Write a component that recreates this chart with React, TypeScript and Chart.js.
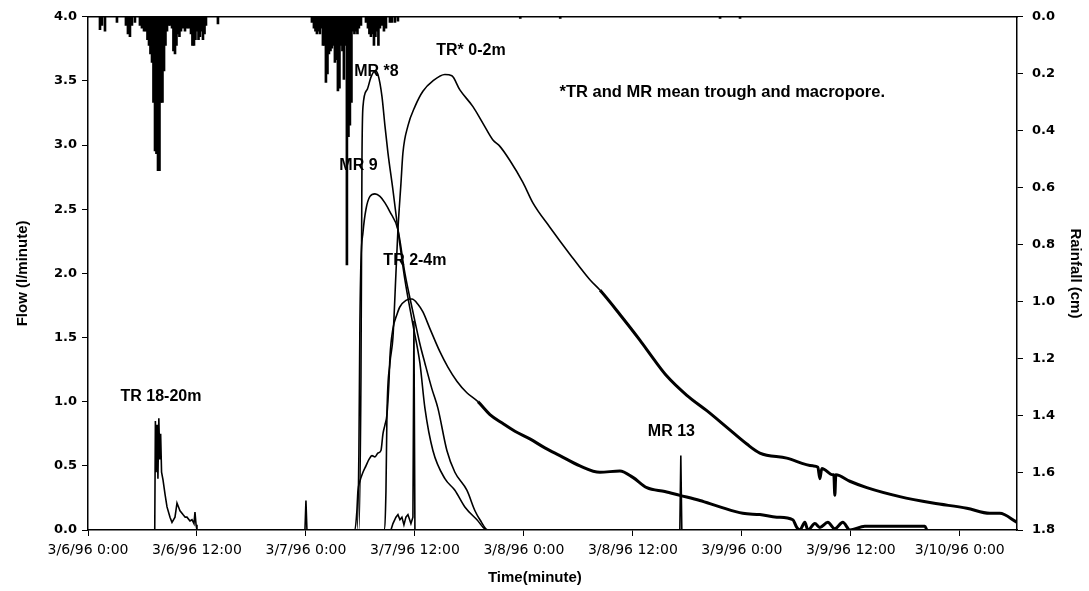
import React, { useEffect, useRef } from "react";
import { Chart, registerables } from "chart.js";

Chart.register(...registerables);

// ---------- axes ----------
const xTickHours = [0, 12, 24, 36, 48, 60, 72, 84, 96];
const xTickLabels = [
  "3/6/96 0:00", "3/6/96 12:00", "3/7/96 0:00", "3/7/96 12:00", "3/8/96 0:00",
  "3/8/96 12:00", "3/9/96 0:00", "3/9/96 12:00", "3/10/96 0:00",
];
const xMaxHours = 102.3;
const flowTicks = [0, 0.5, 1, 1.5, 2, 2.5, 3, 3.5, 4];
const rainTicks = [0, 0.2, 0.4, 0.6, 0.8, 1.0, 1.2, 1.4, 1.6, 1.8];

// ---------- rainfall (hours since 3/6/96 0:00, cm) ----------
const rainHours = [
  1.32, 1.54, 1.87, 3.19, 4.18, 4.40, 4.62, 4.84, 5.17, 5.72, 5.94, 6.17, 6.39, 6.55, 6.72, 6.88, 7.05, 7.21, 7.38, 7.54,
  7.71, 7.87, 8.04, 8.20, 8.37, 8.53, 8.70, 8.86, 9.03, 9.25, 9.41, 9.58, 9.74, 9.91, 10.07, 10.24, 10.46, 10.68, 10.90, 11.12,
  11.34, 11.50, 11.67, 11.83, 12.00, 12.17, 12.33, 12.50, 12.66, 12.83, 12.99, 14.31,
  24.66, 24.88, 25.05, 25.21, 25.38, 25.54, 25.71, 25.87, 26.04, 26.20, 26.37, 26.53, 26.70, 26.86, 27.03, 27.19, 27.36, 27.52,
  27.69, 27.85, 28.02, 28.18, 28.35, 28.51, 28.68, 28.84, 29.01, 29.17, 29.34, 29.50, 29.67, 29.83, 30.06, 30.61, 30.83, 30.99,
  31.16, 31.32, 31.49, 31.65, 31.82, 31.98, 32.15, 32.37, 32.59, 32.81, 33.25, 33.47, 33.80, 34.13,
  47.6, 52.0, 69.6, 71.8,
];
const rainCm = [
  0.045, 0.03, 0.05, 0.02, 0.03, 0.06, 0.07, 0.03, 0.02, 0.03, 0.04, 0.05, 0.05, 0.08, 0.1, 0.13, 0.16, 0.3, 0.47, 0.48,
  0.54, 0.54, 0.3, 0.3, 0.19, 0.1, 0.05, 0.03, 0.03, 0.04, 0.12, 0.13, 0.1, 0.06, 0.07, 0.05, 0.04, 0.05, 0.04, 0.04,
  0.06, 0.1, 0.1, 0.08, 0.05, 0.08, 0.07, 0.05, 0.08, 0.06, 0.03, 0.025,
  0.02, 0.04, 0.05, 0.06, 0.05, 0.06, 0.04, 0.1, 0.1, 0.23, 0.2, 0.13, 0.12, 0.11, 0.1, 0.16, 0.15, 0.26,
  0.25, 0.1, 0.12, 0.22, 0.1, 0.87, 0.42, 0.38, 0.3, 0.05, 0.06, 0.05, 0.06, 0.04, 0.03, 0.02, 0.04, 0.06,
  0.07, 0.06, 0.1, 0.07, 0.05, 0.1, 0.04, 0.03, 0.05, 0.04, 0.02, 0.02, 0.02, 0.015,
  0.006, 0.006, 0.006, 0.006,
];

// ---------- flow series (hours, l/minute) ----------
const tr1820Hours = [0, 7.35, 7.42, 7.5, 7.6, 7.7, 7.8, 7.9, 8.0, 8.1, 8.26, 8.48, 8.7, 9.03, 9.25, 9.58, 9.8, 10.13, 10.46, 10.7, 10.9, 11.23, 11.45, 11.67, 11.78, 11.9, 12.0, 24];
const tr1820Flow = [0, 0, 0.85, 0.45, 0.82, 0.4, 0.87, 0.55, 0.75, 0.45, 0.39, 0.28, 0.18, 0.1, 0.06, 0.1, 0.21, 0.15, 0.12, 0.1, 0.1, 0.07, 0.08, 0.05, 0.14, 0.04, 0, 0];

const mr8Hours = [0, 29.83, 30.06, 30.17, 30.28, 30.72, 31.16, 31.60, 31.93, 32.37, 32.70, 33.03, 33.58, 34.13, 34.90, 35.78, 36.55, 37.10, 37.98, 39.30, 40.40, 41.50, 42.83, 43.93, 50];
const mr8Flow = [0, 0, 1.2, 2.9, 3.3, 3.43, 3.53, 3.58, 3.55, 3.38, 3.15, 2.94, 2.65, 2.34, 1.95, 1.6, 1.3, 0.95, 0.62, 0.4, 0.31, 0.18, 0.08, 0, 0];

const mr9Hours = [0, 29.61, 29.83, 29.94, 30.06, 30.28, 30.61, 31.05, 31.60, 32.15, 32.70, 33.25, 34.13, 34.90, 35.78, 36.55, 37.10, 37.87, 38.53, 39.52, 40.40, 41.72, 42.61, 43.16, 44.04, 50];
const mr9Flow = [0, 0, 0.6, 1.6, 2.1, 2.32, 2.5, 2.6, 2.62, 2.6, 2.55, 2.48, 2.34, 2.0, 1.7, 1.45, 1.3, 1.1, 0.95, 0.62, 0.45, 0.31, 0.15, 0.08, 0, 0];

const tr24Hours = [
  0, 29.39, 29.61, 29.72, 29.94, 30.28, 30.61, 30.94, 31.27, 31.60, 31.93, 32.26, 32.48, 32.70, 32.92, 33.14, 33.25, 33.58, 34.02, 34.35,
  35.01, 35.67, 36.33, 36.88, 37.65, 38.75, 39.63, 40.62, 41.72, 42.94, 44.26, 45.69, 47.01, 48.66, 50.31, 51.96, 54.17, 56.37, 58.57, 60.0,
  61.54, 63.52, 65.17, 67.38, 69.58, 72.11, 73.98, 75.85, 77.61, 78.05, 78.39, 78.94, 79.27, 80.04, 80.59, 81.47, 82.24, 83.12, 83.89, 85.54,
  92.15, 92.37,
];
const tr24Flow = [
  0, 0, 0.15, 0.3, 0.38, 0.45, 0.5, 0.55, 0.58, 0.57, 0.6, 0.62, 0.75, 0.82, 0.9, 1.15, 1.35, 1.57, 1.68, 1.74,
  1.79, 1.8, 1.76, 1.7, 1.57, 1.39, 1.27, 1.16, 1.07, 1.0, 0.9, 0.83, 0.77, 0.71, 0.64, 0.58, 0.5, 0.45, 0.46, 0.41,
  0.33, 0.3, 0.27, 0.23, 0.18, 0.13, 0.12, 0.10, 0.08, 0.02, 0, 0.06, 0, 0.05, 0.02, 0.06, 0.01, 0.06, 0, 0.03,
  0.03, 0,
];

const tr02Hours = [
  0, 32.59, 32.81, 32.92, 33.25, 33.58, 33.91, 34.13, 34.46, 34.68, 35.23, 36.0, 36.88, 37.98, 39.30, 40.07, 40.95, 42.39, 43.49, 44.59,
  45.36, 46.46, 47.89, 48.99, 50.86, 53.06, 55.27, 56.37, 58.57, 60.77, 62.42, 63.74, 65.94, 68.14, 70.35, 72.55, 73.98, 76.95, 79.82, 80.37,
  80.59, 80.81, 82.02, 82.13, 82.24, 82.35, 83.89, 85.76, 89.39, 93.03, 96.77, 99.30, 100.40, 102.3,
];
const tr02Flow = [
  0, 0, 0.3, 0.9, 1.3, 1.5, 2.0, 2.34, 2.7, 2.94, 3.15, 3.3, 3.42, 3.5, 3.55, 3.54, 3.43, 3.3, 3.17, 3.04,
  2.99, 2.88, 2.71, 2.55, 2.36, 2.15, 1.95, 1.87, 1.68, 1.48, 1.32, 1.2, 1.05, 0.93, 0.8, 0.67, 0.6, 0.56, 0.5, 0.49,
  0.4, 0.48, 0.43, 0.43, 0.27, 0.43, 0.38, 0.33, 0.26, 0.21, 0.17, 0.13, 0.13, 0.06,
];

const mr13Hours = [0, 23.89, 24.0, 24.11, 33.36, 33.58, 33.91, 34.13, 34.35, 34.57, 34.79, 35.01, 35.23, 35.56, 35.78, 35.89, 36.0, 65.17, 65.28, 65.39, 102.3];
const mr13Flow = [0, 0, 0.23, 0, 0, 0.05, 0.1, 0.12, 0.08, 0.1, 0.04, 0.1, 0.12, 0.05, 0.1, 1.63, 0, 0, 0.58, 0, 0];

// ---------- annotations ----------
const noteTexts = ["TR 18-20m", "MR *8", "MR 9", "TR* 0-2m", "TR 2-4m", "MR 13", "*TR and MR mean trough and macropore."];
const noteHours = [8.04, 31.76, 29.78, 42.17, 36.0, 64.24, 69.85];
const noteFlows = [1.04, 3.57, 2.84, 3.74, 2.1, 0.77, 3.41];

const pts = (xs: number[], ys: number[]) => xs.map((x, i) => ({ x, y: ys[i] }));

const lineSet = (label: string, xs: number[], ys: number[], smooth: boolean, thickFrom: number) => ({
  type: "line" as const,
  label,
  data: pts(xs, ys),
  xAxisID: "x",
  yAxisID: "y",
  borderColor: "#000",
  backgroundColor: "#000",
  borderWidth: 1.6,
  pointRadius: 0,
  fill: false,
  tension: smooth ? 0.4 : 0,
  cubicInterpolationMode: smooth ? ("monotone" as const) : ("default" as const),
  segment: {
    borderWidth: (ctx: any) => (ctx.p0.parsed.x >= thickFrom ? 3 : undefined),
  },
});

export default function App() {
  const ref = useRef<HTMLCanvasElement>(null);

  useEffect(() => {
    if (!ref.current) return;
    const notesPlugin = {
      id: "notes",
      afterDatasetsDraw(chart: any) {
        const { ctx, scales, chartArea } = chart;
        ctx.save();
        ctx.fillStyle = "#000";
        ctx.textAlign = "center";
        ctx.textBaseline = "middle";
        noteTexts.forEach((t, i) => {
          ctx.font = i === noteTexts.length - 1
            ? 'bold 16.5px "Liberation Sans", Arial, sans-serif'
            : 'bold 16px "Liberation Sans", Arial, sans-serif';
          ctx.fillText(t, scales.x.getPixelForValue(noteHours[i]), scales.y.getPixelForValue(noteFlows[i]));
        });
        ctx.font = 'bold 15px "Liberation Sans", Arial, sans-serif';
        ctx.fillText("Time(minute)", chartArea.left + (chartArea.right - chartArea.left) * 0.481, chart.height - 13);
        ctx.restore();
      },
    };

    const tickFont = { family: '"DejaVu Sans", sans-serif', size: 13, weight: "bold" as const };
    const titleFont = { family: '"Liberation Sans", Arial, sans-serif', size: 15, weight: "bold" as const };

    const chart = new Chart(ref.current, {
      type: "line",
      data: {
        datasets: [
          {
            type: "bar" as const,
            label: "Rainfall",
            data: pts(rainHours, rainCm),
            xAxisID: "x",
            yAxisID: "yR",
            backgroundColor: "#000",
            borderWidth: 0,
            barThickness: 2,
          } as any,
          lineSet("TR 18-20m", tr1820Hours, tr1820Flow, false, 999),
          lineSet("MR *8", mr8Hours, mr8Flow, true, 999),
          lineSet("MR 9", mr9Hours, mr9Flow, true, 999),
          lineSet("TR 2-4m", tr24Hours, tr24Flow, true, 42.5),
          lineSet("TR* 0-2m", tr02Hours, tr02Flow, true, 55.5),
          lineSet("MR 13", mr13Hours, mr13Flow, false, 999),
        ],
      },
      options: {
        animation: false,
        responsive: false,
        devicePixelRatio: 1,
        events: [],
        layout: { padding: 0 },
        plugins: { legend: { display: false }, tooltip: { enabled: false } },
        scales: {
          x: {
            type: "linear",
            position: "bottom",
            min: 0,
            max: xMaxHours,
            offset: false,
            afterBuildTicks: (s: any) => {
              s.ticks = xTickHours.map((v) => ({ value: v }));
            },
            afterFit: (s: any) => {
              s.height = 61;
            },
            ticks: {
              callback: (v: any) => {
                const i = xTickHours.indexOf(Number(v));
                return i >= 0 ? xTickLabels[i] : "";
              },
              font: { family: '"DejaVu Sans", sans-serif', size: 14 },
              color: "#000",
              maxRotation: 0,
              autoSkip: false,
              padding: 6,
            },
            grid: { offset: false, drawOnChartArea: false, tickLength: 6, color: "#000" },
            border: { color: "#000", width: 1.5 },
          },
          xTop: {
            type: "linear",
            position: "top",
            min: 0,
            max: xMaxHours,
            offset: false,
            ticks: { display: false },
            grid: { offset: false, drawOnChartArea: false, drawTicks: false },
            border: { color: "#000", width: 1.5 },
            afterFit: (s: any) => {
              s.height = 13;
            },
          },
          y: {
            type: "linear",
            position: "left",
            min: 0,
            max: 4,
            afterBuildTicks: (s: any) => {
              s.ticks = flowTicks.map((v) => ({ value: v }));
            },
            afterFit: (s: any) => {
              s.width = 88;
            },
            ticks: {
              callback: (v: any) => Number(v).toFixed(1),
              font: tickFont,
              color: "#000",
              padding: 5,
            },
            grid: { drawOnChartArea: false, tickLength: 6, color: "#000" },
            border: { color: "#000", width: 1.5 },
            title: {
              display: true,
              text: "Flow (l/minute)",
              font: titleFont,
              color: "#000",
              padding: { top: 14, bottom: 0 },
            },
          },
          yR: {
            type: "linear",
            position: "right",
            min: 0,
            max: 1.8,
            reverse: true,
            afterBuildTicks: (s: any) => {
              s.ticks = rainTicks.map((v) => ({ value: v }));
            },
            afterFit: (s: any) => {
              s.width = 72;
            },
            ticks: {
              callback: (v: any) => Number(v).toFixed(1),
              font: tickFont,
              color: "#000",
              padding: 9,
            },
            grid: { drawOnChartArea: false, tickLength: 6, color: "#000" },
            border: { color: "#000", width: 1.5 },
            title: {
              display: true,
              text: "Rainfall (cm)",
              font: titleFont,
              color: "#000",
              padding: { top: 5, bottom: 0 },
            },
          },
        },
      } as any,
      plugins: [notesPlugin],
    });
    return () => chart.destroy();
  }, []);

  return (
    <div style={{ position: "absolute", left: 0, top: 0, width: 1089, height: 591, background: "#fff" }}>
      <canvas ref={ref} width={1089} height={591} style={{ display: "block", width: 1089, height: 591 }} />
    </div>
  );
}
